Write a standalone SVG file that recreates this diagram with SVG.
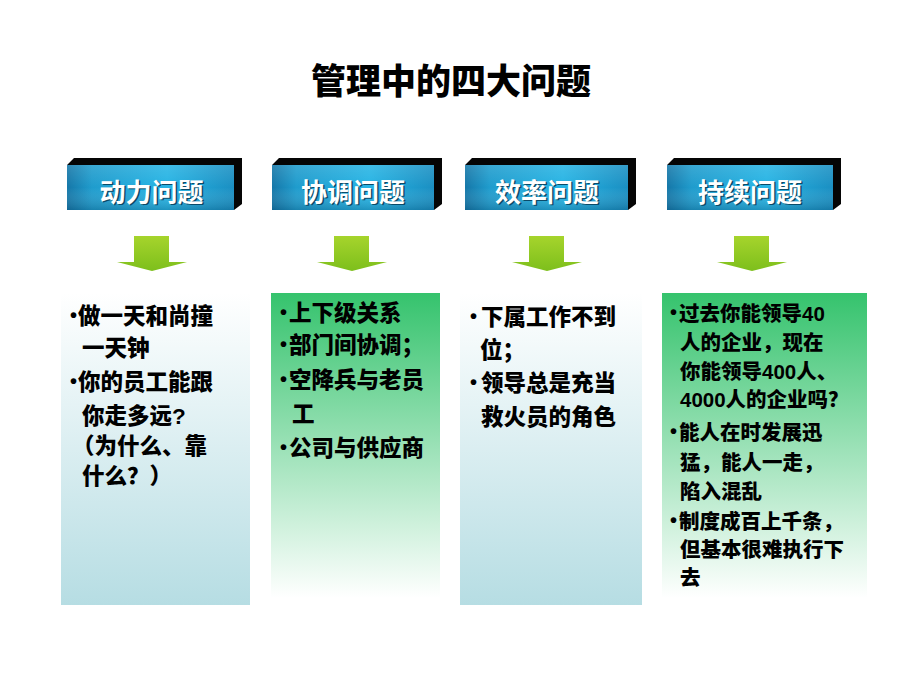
<svg xmlns="http://www.w3.org/2000/svg" width="920" height="690" viewBox="0 0 920 690">
  <defs>
    <linearGradient id="hdrFace" x1="0" y1="0" x2="1" y2="0">
      <stop offset="0" stop-color="#1577a8"/>
      <stop offset="0.15" stop-color="#1f9ccd"/>
      <stop offset="0.6" stop-color="#27b4e4"/>
      <stop offset="1" stop-color="#1a8fc2"/>
    </linearGradient>
    <linearGradient id="hdrShade" x1="0" y1="0" x2="0" y2="1">
      <stop offset="0" stop-color="#ffffff" stop-opacity="0.12"/>
      <stop offset="0.5" stop-color="#ffffff" stop-opacity="0"/>
      <stop offset="1" stop-color="#003050" stop-opacity="0.25"/>
    </linearGradient>
    <linearGradient id="arrowFill" x1="0" y1="0" x2="0" y2="1">
      <stop offset="0" stop-color="#a6d42c"/>
      <stop offset="1" stop-color="#7dbf1c"/>
    </linearGradient>
    <linearGradient id="blueBox" x1="0" y1="0" x2="0" y2="1">
      <stop offset="0" stop-color="#ffffff"/>
      <stop offset="1" stop-color="#b6dde3"/>
    </linearGradient>
    <linearGradient id="greenBox" x1="0" y1="0" x2="0" y2="1">
      <stop offset="0" stop-color="#35c36d"/>
      <stop offset="1" stop-color="#ffffff"/>
    </linearGradient>
    <g id="arrowShape">
      <path d="M-18,0 H17 V26 H35 L0,35 L-35,26 H-18 Z"/>
    </g>
  </defs>
  <style>
    .title { font-family: "Liberation Sans", "Noto Sans CJK SC", sans-serif; font-size: 35px; font-weight: 900; fill: #000; }
    .face { fill: url(#hdrFace); }
    .shade { fill: url(#hdrShade); }
    .edge { fill: #050505; }
    .htxt { font-family: "Noto Sans CJK SC", sans-serif; font-size: 26px; font-weight: bold; fill: #ffffff; text-anchor: middle; }
    .hsh { font-family: "Noto Sans CJK SC", sans-serif; font-size: 26px; font-weight: bold; fill: #0b4a68; text-anchor: middle; }
    .arrow { fill: url(#arrowFill); }
    .blue { fill: url(#blueBox); }
    .green { fill: url(#greenBox); }
    .t { font-family: "Liberation Sans", "Noto Sans CJK SC", sans-serif; font-size: 22.5px; font-weight: 900; fill: #000; }
    .t4 { font-family: "Liberation Sans", "Noto Sans CJK SC", sans-serif; font-size: 20.5px; font-weight: 900; fill: #000; }
    .b { font-family: "Liberation Sans", sans-serif; font-size: 20px; font-weight: bold; fill: #000; }
  </style>

  <rect width="920" height="690" fill="#ffffff"/>

  <text class="title" x="451" y="94" text-anchor="middle">管理中的四大问题</text>

  <!-- headers -->
  <g id="header1">
    <path class="edge" d="M67,165 L74,158 L242,158 L242,204 L234,210 L234,165 Z"/>
    <rect class="face" x="67" y="165" width="167" height="45"/>
    <rect class="shade" x="67" y="165" width="167" height="45"/>
    <text class="hsh" x="153" y="203">动力问题</text>
    <text class="htxt" x="151.5" y="201.5">动力问题</text>
  </g>
  <g id="header2">
    <path class="edge" d="M272,165 L279,158 L442,158 L442,204 L434,210 L434,165 Z"/>
    <rect class="face" x="272" y="165" width="162" height="45"/>
    <rect class="shade" x="272" y="165" width="162" height="45"/>
    <text class="hsh" x="354.5" y="203">协调问题</text>
    <text class="htxt" x="353" y="201.5">协调问题</text>
  </g>
  <g id="header3">
    <path class="edge" d="M465,165 L472,158 L636,158 L636,204 L628,210 L628,165 Z"/>
    <rect class="face" x="465" y="165" width="163" height="45"/>
    <rect class="shade" x="465" y="165" width="163" height="45"/>
    <text class="hsh" x="548.5" y="203">效率问题</text>
    <text class="htxt" x="547" y="201.5">效率问题</text>
  </g>
  <g id="header4">
    <path class="edge" d="M667,165 L674,158 L841,158 L841,204 L833,210 L833,165 Z"/>
    <rect class="face" x="667" y="165" width="166" height="45"/>
    <rect class="shade" x="667" y="165" width="166" height="45"/>
    <text class="hsh" x="751.5" y="203">持续问题</text>
    <text class="htxt" x="750" y="201.5">持续问题</text>
  </g>

  <!-- connectors (down arrows) -->
  <g id="connectors">
    <use href="#arrowShape" class="arrow" transform="translate(152,236)"/>
    <use href="#arrowShape" class="arrow" transform="translate(352,236)"/>
    <use href="#arrowShape" class="arrow" transform="translate(547,236)"/>
    <use href="#arrowShape" class="arrow" transform="translate(752,236)"/>
  </g>

  <!-- content boxes -->
  <g id="box1">
    <rect class="blue" x="61" y="293" width="189" height="312"/>
    <text class="b" x="70" y="322">•</text>
    <text class="t" x="78" y="324">做一天和尚撞</text>
    <text class="t" x="82" y="356">一天钟</text>
    <text class="b" x="70" y="388">•</text>
    <text class="t" x="78" y="390">你的员工能跟</text>
    <text class="t" x="82" y="424">你走多远?</text>
    <text class="t" x="72" y="454">（为什么、靠</text>
    <text class="t" x="82" y="484">什么？）</text>
  </g>

  <g id="box2">
    <rect class="green" x="271" y="293" width="169" height="305"/>
    <text class="b" x="280" y="319">•</text>
    <text class="t" x="289" y="321">上下级关系</text>
    <text class="b" x="280" y="351">•</text>
    <text class="t" x="289" y="353">部门间协调；</text>
    <text class="b" x="280" y="386">•</text>
    <text class="t" x="289" y="388">空降兵与老员</text>
    <text class="t" x="292" y="422">工</text>
    <text class="b" x="280" y="454">•</text>
    <text class="t" x="289" y="456">公司与供应商</text>
  </g>

  <g id="box3">
    <rect class="blue" x="460" y="293" width="182" height="312"/>
    <text class="b" x="470" y="323">•</text>
    <text class="t" x="481" y="325">下属工作不到</text>
    <text class="t" x="480" y="358">位；</text>
    <text class="b" x="470" y="389">•</text>
    <text class="t" x="481" y="391">领导总是充当</text>
    <text class="t" x="481" y="425">救火员的角色</text>
  </g>

  <g id="box4">
    <rect class="green" x="662" y="293" width="205" height="305"/>
    <text class="b" x="670" y="319">•</text>
    <text class="t4" x="679" y="321">过去你能领导40</text>
    <text class="t4" x="680" y="350">人的企业，现在</text>
    <text class="t4" x="680" y="379">你能领导400人、</text>
    <text class="t4" x="680" y="407">4000人的企业吗？</text>
    <text class="b" x="670" y="438">•</text>
    <text class="t4" x="679" y="440">能人在时发展迅</text>
    <text class="t4" x="680" y="470">猛，能人一走，</text>
    <text class="t4" x="680" y="499">陷入混乱</text>
    <text class="b" x="670" y="527">•</text>
    <text class="t4" x="679" y="529">制度成百上千条，</text>
    <text class="t4" x="680" y="557">但基本很难执行下</text>
    <text class="t4" x="680" y="585">去</text>
  </g>
</svg>
